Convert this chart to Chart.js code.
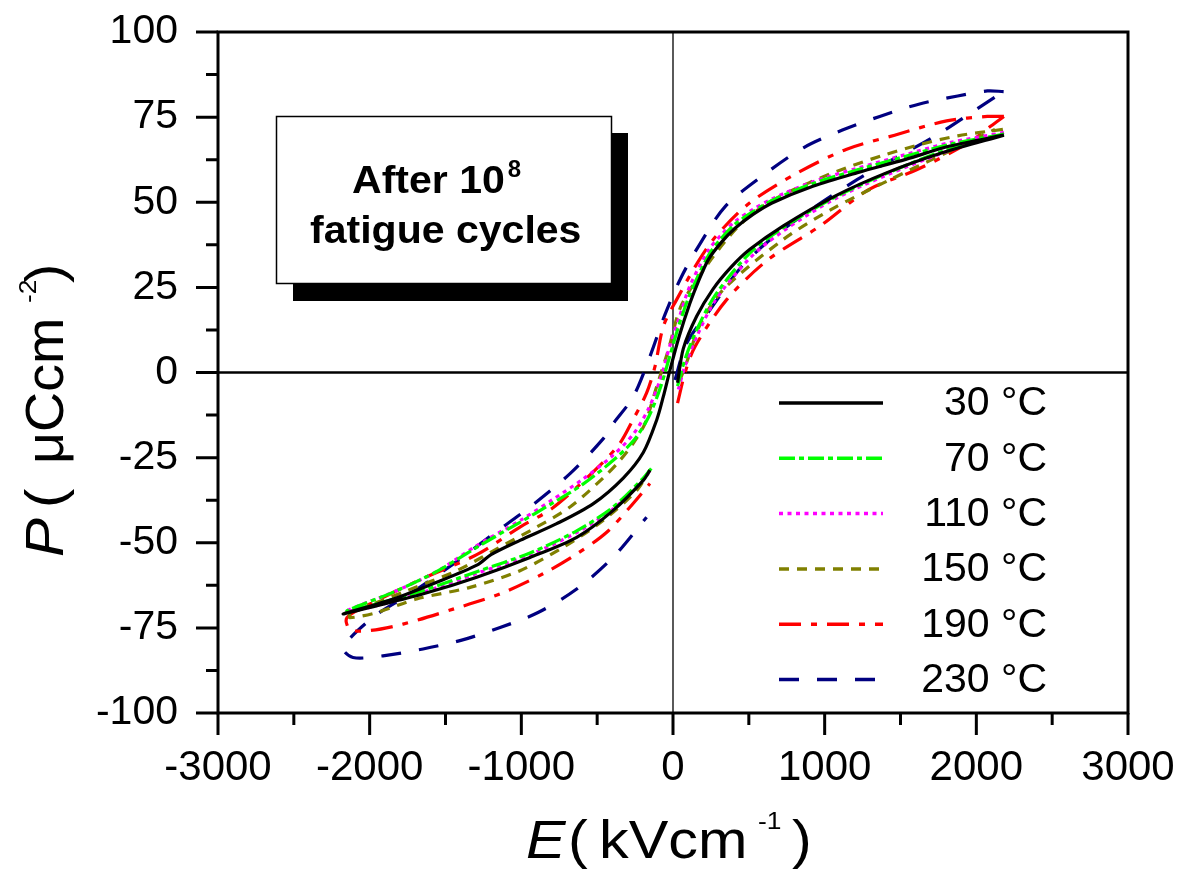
<!DOCTYPE html>
<html>
<head>
<meta charset="utf-8">
<script src="https://cdn.jsdelivr.net/npm/chart.js@4"></script>
<style>
  html, body { margin: 0; padding: 0; background: #fff; }
</style>
</head>
<body>
<canvas id="pe" width="1181" height="876"></canvas>
<script>
// legend labels and colours
const temps = ['30 °C', '70 °C', '110 °C', '150 °C', '190 °C', '230 °C'];
const colours = ['#000000', '#00ff00', '#ff00ff', '#808000', '#ff0000', '#000080'];
const dashes = [[], [16, 4, 5, 4], [4, 4.5], [10, 8], [22, 10, 6, 10], [20, 18]];

// axis ticks
const eTicks = [-3000, -2000, -1000, 0, 1000, 2000, 3000];
const pTicks = [-100, -75, -50, -25, 0, 25, 50, 75, 100];

// loops: upper branch (+Emax -> -Emax), lower branch back, gap, lower branch on the positive side
const e30 = [2182, 1826, 1534, 1216, 922, 653, 530, 407, 320, 235, 165, 112, 40, -20, -64, -108, -196, -328, -525, -767, -1009, -1200, -1290, -1558, -1844, -2174,
  -1998, -1646, -1294, -943, -635, -394, -196, -152, null,
  30, 68, 156, 264, 380, 505, 725, 1068, 1411, 1780, 2182];
const p30 = [69.7, 66.5, 62.6, 58.7, 54.7, 49.8, 46.5, 42.3, 38.3, 33.3, 26.5, 20.4, 10.5, 0.7, -7.1, -14, -23.5, -31, -38.5, -44.4, -49.3, -53.5, -56.5, -61.6, -66.5, -70.9,
  -69, -65, -60.1, -54.3, -48.4, -40.5, -31.7, -28.7, null,
  -3, 7, 16.5, 24.5, 30.8, 36.1, 43, 51.8, 58.7, 64.6, 69.7];

const e70 = [2182, 1826, 1534, 1216, 922, 653, 530, 407, 320, 235, 112, 40, -20, -80, -160, -260, -400, -600, -800, -1009, -1300, -1560, -1844, -2150,
  -1998, -1646, -1294, -943, -635, -394, -196, -140, null,
  30, 80, 161, 283, 505, 725, 1068, 1411, 1780, 2182];
const p70 = [70, 67, 63.5, 59.5, 55.5, 50.5, 47.3, 43.5, 39.5, 34.5, 23, 14, 5, -4, -13, -20, -26, -33, -38.5, -44, -51.5, -58.5, -64.5, -70,
  -68.5, -64, -58.5, -53, -46.5, -39.5, -31, -28, null,
  -4, 4, 13, 23, 35, 42.5, 51.5, 58.5, 65, 70];

const e110 = [2182, 1826, 1534, 1216, 922, 653, 530, 407, 320, 235, 112, 40, -20, -80, -160, -260, -400, -600, -800, -1009, -1300, -1560, -1844, -2150,
  -1998, -1646, -1294, -943, -635, -394, -196, -140, null,
  35, 80, 161, 283, 505, 725, 1068, 1411, 1780, 2182];
const p110 = [70.5, 67.5, 64, 60, 56, 51, 48, 44.3, 40.5, 36, 25.5, 16, 8, -1.5, -10.5, -18, -24.5, -31.5, -37.5, -43.5, -51, -58.5, -64.5, -70,
  -69, -64.5, -59, -53.5, -47, -40, -31.5, -28, null,
  -5, 2, 11, 21.5, 33.5, 41.5, 51, 58, 64.5, 70.5];

const e150 = [2175, 1877, 1632, 1387, 1141, 896, 626, 431, 235, 57, -31, -108, -185, -264, -350, -461, -679, -899, -1162, -1426, -1756, -2130,
  -2130, -1953, -1690, -1338, -1009, -723, -459, -239, -152, null,
  46, 88, 178, 330, 725, 1044, 1411, 1804, 2123];
const p150 = [71.4, 69.5, 67, 63.8, 60.1, 55.7, 49.8, 42.9, 32.2, 19.9, 6.6, -4.2, -15, -20.9, -25.8, -31, -39.5, -45.4, -51.8, -58.2, -64.1, -70.9,
  -72, -70.5, -66.5, -63.1, -58.2, -51.3, -43.4, -34.6, -28.7, null,
  -2.2, 2.7, 14, 24.3, 39, 47.9, 56.2, 64.6, 71.4];

const e190 = [2182, 2073, 1804, 1461, 1141, 824, 505, 283, 161, 24, -64, -119, -174, -264, -360, -569, -800, -1009, -1294, -1650, -1998, -2150,
  -2130, -2000, -1780, -1450, -1140, -857, -635, -437, -283, -152, null,
  30, 80, 145, 354, 626, 969, 1290, 1610, 1950, 2096, 2182];
const p190 = [75.2, 75.2, 73.9, 69.7, 65.5, 58.7, 49.8, 40, 32.2, 21.4, 13.5, 1.7, -6, -13.9, -21.4, -31, -40, -45.4, -53.5, -60.5, -68, -72,
  -75.5, -75.8, -73.9, -69.5, -65, -59.1, -53.3, -46.9, -39.5, -32.6, null,
  -9, 0, 7.6, 21.4, 33.1, 43, 53.7, 59.6, 67.5, 72.4, 75.2];

const e230 = [2180, 2073, 1877, 1620, 1363, 1117, 860, 603, 345, 174, 51, -53, -152, -262, -394, -461, -679, -943, -1185, -1448, -1734, -1978, -2175,
  -2110, -1912, -1648, -1393, -1140, -890, -635, -394, -174, null,
  13, 90, 244, 455, 725, 1216, 1730, 2000, 2180];
const p230 = [82.5, 82.7, 81.2, 78.8, 75.2, 71.2, 66, 58.2, 48.8, 37.5, 27.7, 17, 4.7, -7.1, -15, -19.5, -29.7, -39.5, -47.4, -56.2, -65, -71.9, -80.8,
  -83.7, -83.2, -81.2, -78.6, -74.9, -70.5, -63.6, -54.2, -42.5, null,
  -2.2, 8.6, 18.4, 31.2, 42, 56.7, 69.5, 77.3, 82.5];

const eSeries = [e30, e70, e110, e150, e190, e230];
const pSeries = [p30, p70, p110, p150, p190, p230];

const FONT = '"Liberation Sans", Arial, sans-serif';

function toPoints(es, ps) {
  return es.map((e, i) => ({ x: e, y: ps[i] }));
}

// draw a piece of text, stretched sideways like in the original figure
function stretched(ctx, text, x, y, font, sx, angle) {
  ctx.save();
  ctx.translate(x, y);
  if (angle) ctx.rotate(angle);
  ctx.scale(sx, 1);
  ctx.font = font;
  ctx.fillText(text, 0, 0);
  const w = ctx.measureText(text).width * sx;
  ctx.restore();
  return w;
}

const decorations = {
  id: 'decorations',
  beforeDatasetsDraw(chart) {
    const { ctx, chartArea: a, scales: { x, y } } = chart;
    ctx.save();
    ctx.strokeStyle = '#000';
    const x0 = x.getPixelForValue(0);
    ctx.lineWidth = 1.3;
    ctx.beginPath(); ctx.moveTo(x0, a.top); ctx.lineTo(x0, a.bottom); ctx.stroke();
    const y0 = y.getPixelForValue(0);
    ctx.lineWidth = 2.5;
    ctx.beginPath(); ctx.moveTo(a.left, y0); ctx.lineTo(a.right, y0); ctx.stroke();
    ctx.restore();
  },
  afterDatasetsDraw(chart) {
    const { ctx, chartArea: a, scales: { x, y } } = chart;
    ctx.save();
    ctx.strokeStyle = '#000';
    ctx.lineWidth = 3;
    ctx.setLineDash([]);
    ctx.strokeRect(a.left, a.top, a.right - a.left, a.bottom - a.top);
    // major and minor ticks, outside
    ctx.beginPath();
    for (let v = -3000; v <= 3000; v += 500) {
      const px = x.getPixelForValue(v);
      const len = v % 1000 === 0 ? 22 : 12;
      ctx.moveTo(px, a.bottom); ctx.lineTo(px, a.bottom + len);
    }
    for (let v = -100; v <= 100; v += 12.5) {
      const py = y.getPixelForValue(v);
      const len = v % 25 === 0 ? 22 : 12;
      ctx.moveTo(a.left, py); ctx.lineTo(a.left - len, py);
    }
    ctx.stroke();
    ctx.restore();
  },
  afterDraw(chart) {
    const { ctx } = chart;
    ctx.save();
    ctx.fillStyle = '#000';
    ctx.textBaseline = 'alphabetic';
    ctx.textAlign = 'left';

    // x title
    stretched(ctx, 'E', 526, 858, 'italic 53px ' + FONT, 1.12);
    stretched(ctx, '(', 568, 858, '53px ' + FONT, 1.12);
    stretched(ctx, 'kVcm', 599, 858, '53px ' + FONT, 1.12);
    stretched(ctx, '-1', 758, 829, '24px ' + FONT, 1.1);
    stretched(ctx, ')', 792, 858, '53px ' + FONT, 1.12);

    // y title (rotated)
    const up = -Math.PI / 2;
    stretched(ctx, 'P', 63, 557, 'italic 53px ' + FONT, 1.1, up);
    stretched(ctx, '(', 63, 508, '53px ' + FONT, 1.1, up);
    stretched(ctx, 'μCcm', 63, 464, '53px ' + FONT, 1.05, up);
    stretched(ctx, '-2', 36, 303, '24px ' + FONT, 1.1, up);
    stretched(ctx, ')', 63, 283, '53px ' + FONT, 1.1, up);

    // annotation box with shadow
    ctx.fillStyle = '#000';
    ctx.fillRect(293, 133, 335, 168);
    ctx.fillStyle = '#fff';
    ctx.fillRect(276, 116, 336, 168);
    ctx.strokeStyle = '#000';
    ctx.lineWidth = 1.5;
    ctx.strokeRect(276.5, 116.5, 335, 167);
    ctx.fillStyle = '#000';
    const w1 = stretched(ctx, 'After 10', 352, 193, 'bold 38px ' + FONT, 1.08);
    stretched(ctx, '8', 352 + w1 + 3, 177, 'bold 24px ' + FONT, 1);
    stretched(ctx, 'fatigue cycles', 310, 243, 'bold 38px ' + FONT, 1.08);

    // legend
    ctx.textAlign = 'right';
    ctx.textBaseline = 'middle';
    ctx.font = '41px ' + FONT;
    chart.data.datasets.forEach((ds, i) => {
      const ly = 403 + 55.3 * i;
      ctx.strokeStyle = ds.borderColor;
      ctx.lineWidth = 3.5;
      ctx.setLineDash(ds.borderDash);
      ctx.beginPath(); ctx.moveTo(779, ly); ctx.lineTo(883, ly); ctx.stroke();
      ctx.setLineDash([]);
      ctx.fillStyle = '#000';
      ctx.fillText(ds.label, 1047, ly + 1);
    });
    ctx.restore();
  }
};

const datasets = temps.map((t, i) => ({
  label: t,
  data: toPoints(eSeries[i], pSeries[i]),
  borderColor: colours[i],
  borderDash: dashes[i],
  borderWidth: 3.2,
  showLine: true,
  pointRadius: 0,
  tension: 0.3,
  spanGaps: false,
  fill: false
}));

new Chart(document.getElementById('pe'), {
  type: 'scatter',
  data: { datasets: datasets },
  options: {
    responsive: false,
    animation: false,
    events: [],
    layout: { padding: { top: 32, right: 53, bottom: 0, left: 0 } },
    plugins: { legend: { display: false }, tooltip: { enabled: false } },
    scales: {
      x: {
        type: 'linear',
        min: -3000, max: 3000,
        afterFit: s => { s.height = 163; s.paddingLeft = 0; s.paddingRight = 0; },
        afterBuildTicks: s => { s.ticks = eTicks.map(v => ({ value: v })); },
        grid: { display: false, drawTicks: false },
        border: { display: false },
        ticks: { color: '#000', font: { family: FONT, size: 42 }, padding: 30, maxRotation: 0, autoSkip: false,
          callback: v => String(v) }
      },
      y: {
        type: 'linear',
        min: -100, max: 100,
        afterFit: s => { s.width = 218; s.paddingTop = 0; s.paddingBottom = 0; },
        afterBuildTicks: s => { s.ticks = pTicks.map(v => ({ value: v })); },
        grid: { display: false, drawTicks: false },
        border: { display: false },
        ticks: { color: '#000', font: { family: FONT, size: 41 }, padding: 40, autoSkip: false,
          callback: v => String(v) }
      }
    }
  },
  plugins: [decorations]
});
</script>
</body>
</html>
